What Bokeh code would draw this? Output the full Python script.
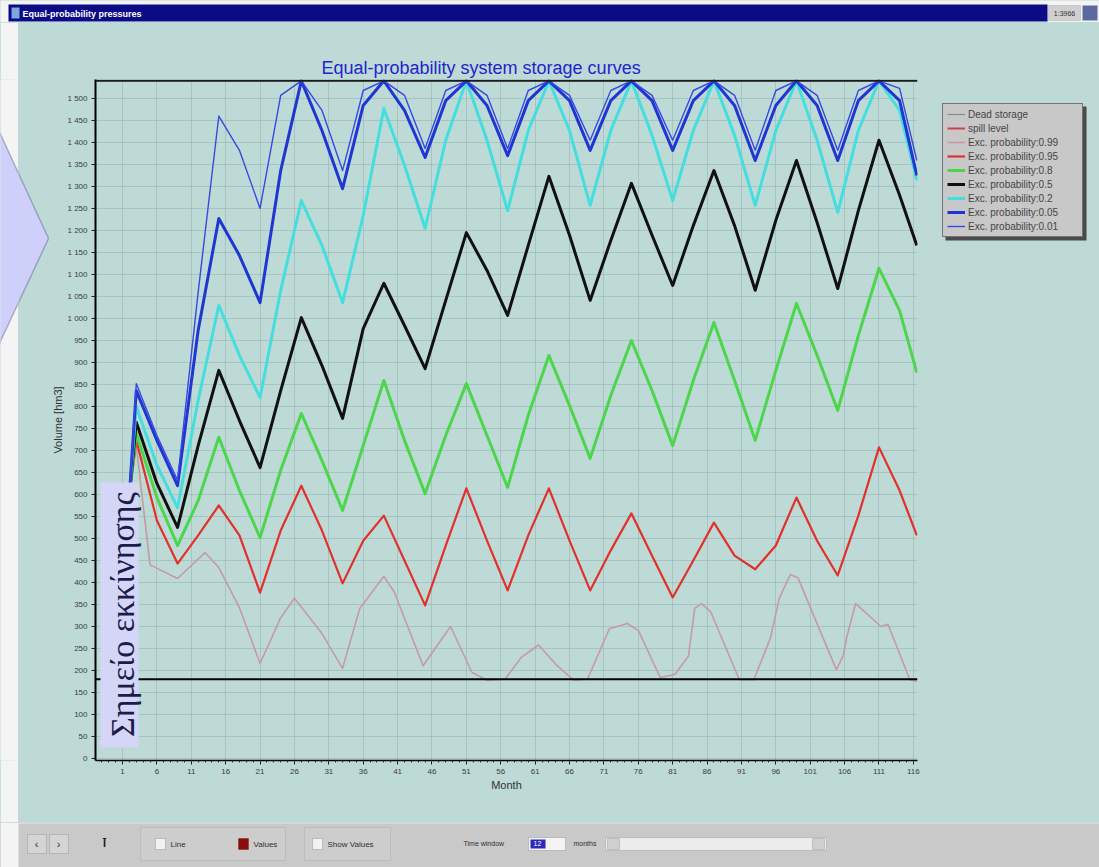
import math
from bokeh.plotting import figure
from bokeh.layouts import column, row
from bokeh.models import (Range1d, Span, Legend, LegendItem, Label, BoxAnnotation,
                          PolyAnnotation, FixedTicker)
from bokeh.embed import file_html
from bokeh.resources import INLINE

# ---------------- data ----------------
months = [2, 3, 6, 9, 12, 15, 18, 21, 24, 27, 30, 33, 36, 39, 42, 45, 48, 51, 54, 57,
          60, 63, 66, 69, 72, 75, 78, 81, 84, 87, 90, 93, 96, 99, 102, 105, 108, 111, 114, 116.5]

months_099 = [2, 3, 5, 9, 13, 15, 18, 21, 24, 26, 30, 33, 35.5, 39, 40.5, 44.7, 48.7, 51.8, 54, 56.6,
              59, 61.5, 64.2, 66.6, 68.6, 71.8, 74.4, 76, 79.2, 81.3, 83.3, 84.2, 85.2, 86.5, 90.7, 92.8,
              95.2, 96.5, 98.1, 99.2, 104.8, 105.8, 106.3, 107.6, 111.3, 112.3, 115.5, 116.5]
exc_099 = [600, 711, 440, 409, 468, 434, 343, 216, 320, 364, 284, 205, 341, 414, 379, 211, 300, 196, 178, 180,
           230, 258, 211, 178, 180, 295, 307, 291, 184, 191, 233, 341, 352, 334, 179, 179,
           273, 364, 418, 411, 202, 234, 275, 352, 300, 305, 179, 175]
exc_095 = [600, 723, 541, 443, 507, 575, 507, 377, 518, 620, 518, 398, 495, 552, 450, 348, 484, 614, 495, 382,
           507, 614, 495, 382, 473, 557, 461, 366, 450, 536, 461, 430, 484, 593, 495, 416, 552, 707, 609, 507]
exc_080 = [600, 739, 593, 484, 586, 730, 609, 502, 655, 784, 677, 564, 711, 859, 723, 602, 734, 852, 734, 616,
           780, 916, 802, 682, 825, 950, 836, 711, 859, 991, 859, 723, 882, 1034, 916, 791, 961, 1114, 1018, 877]
exc_050 = [600, 764, 625, 525, 711, 882, 768, 661, 836, 1002, 893, 773, 977, 1080, 984, 886, 1041, 1195, 1109, 1007,
           1166, 1323, 1189, 1041, 1177, 1307, 1189, 1075, 1211, 1336, 1211, 1064, 1223, 1359, 1218, 1068, 1245, 1405, 1280, 1166]
exc_020 = [600, 800, 666, 570, 814, 1030, 916, 820, 1064, 1268, 1166, 1036, 1234, 1477, 1348, 1205, 1405, 1540, 1405, 1245,
           1427, 1540, 1427, 1257, 1427, 1540, 1416, 1268, 1427, 1540, 1416, 1257, 1427, 1540, 1405, 1241, 1427, 1540, 1473, 1314]
exc_005 = [600, 836, 723, 620, 973, 1227, 1143, 1036, 1336, 1540, 1427, 1295, 1484, 1540, 1473, 1366, 1495, 1540, 1484, 1370,
           1495, 1540, 1495, 1382, 1495, 1540, 1495, 1382, 1495, 1540, 1484, 1359, 1484, 1540, 1484, 1359, 1495, 1540, 1495, 1325]
exc_001 = [600, 852, 734, 632, 1060, 1460, 1382, 1250, 1507, 1540, 1473, 1336, 1518, 1540, 1507, 1386, 1518, 1540, 1507, 1386,
           1518, 1540, 1507, 1405, 1518, 1540, 1507, 1405, 1518, 1540, 1507, 1382, 1518, 1540, 1507, 1382, 1518, 1540, 1523, 1359]

dead_storage = 180
spill_level = 1540

x_ticks = list(range(1, 117, 5))
y_ticks = list(range(0, 1501, 50))

series_labels = ["Exc. probability:0.99", "Exc. probability:0.95", "Exc. probability:0.8",
                 "Exc. probability:0.5", "Exc. probability:0.2", "Exc. probability:0.05",
                 "Exc. probability:0.01"]

# ---------------- styling ----------------
BG = "#bddad7"
WHITE = "#f4f4f4"
FONT = "Liberation Sans"

# page layout: top bar 0..22, middle 22..822 (white 0..18, teal 18..49, main 49..935, right 935..1099), bottom 822..867
TOP_H, MID_H, BOT_H = 22, 800, 45
WH_W, LT_W, MAIN_W, RIGHT_W = 18, 31, 886, 164
FULL_W = WH_W + LT_W + MAIN_W + RIGHT_W
FRAME_BOTTOM = 760  # page y of the plot frame bottom (frames of the row are aligned)

p = figure(width=MAIN_W, height=MID_H, output_backend="svg", toolbar_location=None,
           x_range=Range1d(-2.93, 116.6), y_range=Range1d(-4.5, 1543),
           min_border_left=46, min_border_right=18, min_border_top=57, min_border_bottom=62,
           background_fill_color=BG, border_fill_color=BG, outline_line_color=None)

p.title.text = "Equal-probability system storage curves"
p.title.align = "left"
p.title.offset = 226
p.title.text_color = "#2424cc"
p.title.text_font = FONT
p.title.text_font_style = "normal"
p.title.text_font_size = "18px"
p.title.standoff = 3

for ax in (p.xaxis[0], p.yaxis[0]):
    ax.axis_line_color = "black"
    ax.major_tick_line_color = "#202020"
    ax.major_tick_in = 0
    ax.major_tick_out = 4
    ax.major_label_text_color = "#3c3c3c"
    ax.major_label_text_font = FONT
    ax.axis_label_text_font = FONT
    ax.axis_label_text_font_style = "normal"
    ax.axis_label_text_color = "#333333"
    ax.axis_label_text_font_size = "11px"

p.xaxis.ticker = FixedTicker(ticks=x_ticks, minor_ticks=list(range(-2, 117)))
p.xaxis.axis_line_width = 1.5
p.xaxis.minor_tick_in = 0
p.xaxis.minor_tick_out = 2
p.xaxis.minor_tick_line_color = "#303030"
p.xaxis.major_label_text_font_size = "8px"
p.xaxis.major_label_standoff = 4
p.xaxis.axis_label = "Month"
p.xaxis.axis_label_standoff = 2

p.yaxis.ticker = FixedTicker(ticks=y_ticks)
p.yaxis.axis_line_width = 2
p.yaxis.minor_tick_line_color = None
p.yaxis.major_label_text_font_size = "8px"
p.yaxis.major_label_standoff = 4
p.yaxis.major_label_overrides = {v: f"{v:,}".replace(",", " ") for v in y_ticks}
p.yaxis.axis_label = "Volume [hm3]"
p.yaxis.axis_label_standoff = 0

for g in (p.xgrid[0], p.ygrid[0]):
    g.grid_line_color = "#8fa8a9"
    g.grid_line_dash = "1 1"
    g.grid_line_alpha = 0.9

p.add_layout(Span(location=dead_storage, dimension="width", line_color="black", line_width=2))
p.add_layout(Span(location=spill_level, dimension="width", line_color="#1a1a1a", line_width=2))

styles = [("#c79aa3", 1.6), ("#e2302b", 2.2), ("#4bd64b", 3), ("#111111", 3),
          ("#45dede", 3), ("#1f36d2", 3), ("#3848e0", 1.4)]
xs_all = [months_099, months, months, months, months, months, months]
data = [exc_099, exc_095, exc_080, exc_050, exc_020, exc_005, exc_001]
for xs, vals, (col, lw) in zip(xs_all, data, styles):
    p.line(xs, vals, line_color=col, line_width=lw, line_join="round")


# ---------- helpers for decorations (page coordinates, per-figure origin) ----------
def deco_fig(w, h, bg):
    f = figure(width=w, height=h, output_backend="svg", toolbar_location=None,
               x_range=Range1d(0, w), y_range=Range1d(0, h), min_border=0,
               x_axis_location=None, y_axis_location=None,
               background_fill_color=bg, border_fill_color=bg, outline_line_color=None)
    f.xgrid.visible = False
    f.ygrid.visible = False
    return f

def cbox(f, ox, oy, x0, y0, x1, y1, fill, line=None, lw=1):
    f.add_layout(BoxAnnotation(left=x0 - ox, right=x1 - ox, top=y0 - oy, bottom=y1 - oy,
                               left_units="canvas", right_units="canvas",
                               top_units="canvas", bottom_units="canvas",
                               fill_color=fill, fill_alpha=1.0,
                               line_color=line, line_width=lw, level="overlay"))

def ctext(f, ox, oy, x, y, txt, size="9px", color="#202020", align="left", font=FONT,
          angle=0.0, style="normal"):
    f.add_layout(Label(x=x - ox, y=y - oy, x_units="canvas", y_units="canvas", text=txt,
                       text_font=font, text_font_size=size, text_color=color,
                       text_align=align, text_baseline="middle", angle=angle,
                       text_font_style=style, level="overlay"))

def arrow(f, ox, oy):
    f.add_layout(PolyAnnotation(xs=[-10 - ox, 48 - ox, -10 - ox],
                                ys=[112 - oy, 238 - oy, 362 - oy],
                                xs_units="canvas", ys_units="canvas",
                                fill_color="#cfcffb", fill_alpha=1, line_color="#2d2d55",
                                line_width=1.5, level="overlay"))

# starting-point box with Greek text (inside main plot area)
MX, MY = WH_W + LT_W, TOP_H
cbox(p, MX, MY, 100, 482, 138, 747, "#d5d5f7")
ctext(p, MX, MY, 122, 614, "Σημείο εκκίνησης", size="34px", color="#1c1c4a", align="center",
      font="Liberation Serif", angle=math.pi / 2)

# ---------- top title bar ----------
top = deco_fig(FULL_W, TOP_H, WHITE)
cbox(top, 0, 0, 8, 4, 1047, 21, "#0b0b86")
cbox(top, 0, 0, 11, 7, 19, 18, "#7fa8d8")
ctext(top, 0, 0, 22, 13, "Equal-probability pressures", size="9px", color="white", style="bold")
cbox(top, 0, 0, 1048, 5, 1080, 20, "#d0d0d0", line="#8a8a8a")
ctext(top, 0, 0, 1064, 13, "1:3966", size="7px", color="#303030", align="center")
cbox(top, 0, 0, 1082, 5, 1097, 20, "#5a6aa0")

# ---------- left strips with arrow ----------
left_white = deco_fig(WH_W, MID_H, WHITE)
arrow(left_white, 0, TOP_H)
left_teal = deco_fig(LT_W, MID_H, BG)
arrow(left_teal, WH_W, TOP_H)

# ---------- right strip with legend ----------
right = deco_fig(RIGHT_W, MID_H, BG)
RX = WH_W + LT_W + MAIN_W
nan = float("nan")
proxy = [right.line([nan], [nan], line_color="#8a8a8a", line_width=1.2),
         right.line([nan], [nan], line_color="#d0404c", line_width=2)]
for col, lw in styles:
    proxy.append(right.line([nan], [nan], line_color=col, line_width=lw))
labels = ["Dead storage", "spill level"] + series_labels
cbox(right, RX, TOP_H, 945, 106, 1086, 240, "#4a4a4a")
legend = Legend(items=[LegendItem(label=l, renderers=[r]) for l, r in zip(labels, proxy)],
                location=(942 - RX, FRAME_BOTTOM - 237), background_fill_color="#c8c8c8",
                background_fill_alpha=1, border_line_color="#202020", border_line_width=1.2,
                label_text_font_size="10px", label_text_color="#454545", label_text_font=FONT,
                glyph_width=18, glyph_height=12, label_height=12, label_width=110, spacing=2,
                padding=4, margin=0, label_standoff=3)
right.add_layout(legend)

# ---------- bottom toolbar ----------
bot = deco_fig(FULL_W, BOT_H, "#c9c9c9")
BY = TOP_H + MID_H
cbox(bot, 0, BY, 0, 822, 18, 867, WHITE)
cbox(bot, 0, BY, 18, 822, 1099, 823, "#ececec")
cbox(bot, 0, BY, 27, 834, 46, 853, "#d4d4d4", line="#7a7a7a")
ctext(bot, 0, BY, 36, 843, "‹", size="11px", color="#303030", align="center")
cbox(bot, 0, BY, 49, 834, 68, 853, "#d4d4d4", line="#7a7a7a")
ctext(bot, 0, BY, 58, 843, "›", size="11px", color="#303030", align="center")
ctext(bot, 0, BY, 104, 842, "Ī", size="11px", color="#202020", align="center", style="bold")
cbox(bot, 0, BY, 140, 827, 285, 860, "#cdcdcd", line="#9a9a9a")
cbox(bot, 0, BY, 155, 838, 165, 849, "#f2f2f2", line="#6a6a6a")
ctext(bot, 0, BY, 170, 844, "Line", size="8px", color="#303030")
cbox(bot, 0, BY, 238, 838, 248, 849, "#8a0c0c", line="#5a0000")
ctext(bot, 0, BY, 253, 844, "Values", size="8px", color="#303030")
cbox(bot, 0, BY, 304, 827, 390, 860, "#cdcdcd", line="#9a9a9a")
cbox(bot, 0, BY, 312, 838, 322, 849, "#f2f2f2", line="#6a6a6a")
ctext(bot, 0, BY, 327, 844, "Show Values", size="8px", color="#303030")
ctext(bot, 0, BY, 463, 843, "Time window", size="7px", color="#303030")
cbox(bot, 0, BY, 528, 837, 565, 850, "#f4f4f4", line="#6a6a6a")
cbox(bot, 0, BY, 530, 839, 545, 848, "#2b2bb8")
ctext(bot, 0, BY, 537, 843, "12", size="7px", color="white", align="center")
ctext(bot, 0, BY, 573, 843, "months", size="7px", color="#303030")
cbox(bot, 0, BY, 605, 837, 826, 850, "#ececec", line="#7a7a7a")
cbox(bot, 0, BY, 607, 838, 619, 849, "#cfcfcf", line="#7a7a7a")
cbox(bot, 0, BY, 812, 838, 824, 849, "#cfcfcf", line="#7a7a7a")

layout = column(top, row(left_white, left_teal, p, right, spacing=0), bot, spacing=0,
                styles={"background-color": BG})
open("out.html", "w").write(file_html(layout, INLINE))
